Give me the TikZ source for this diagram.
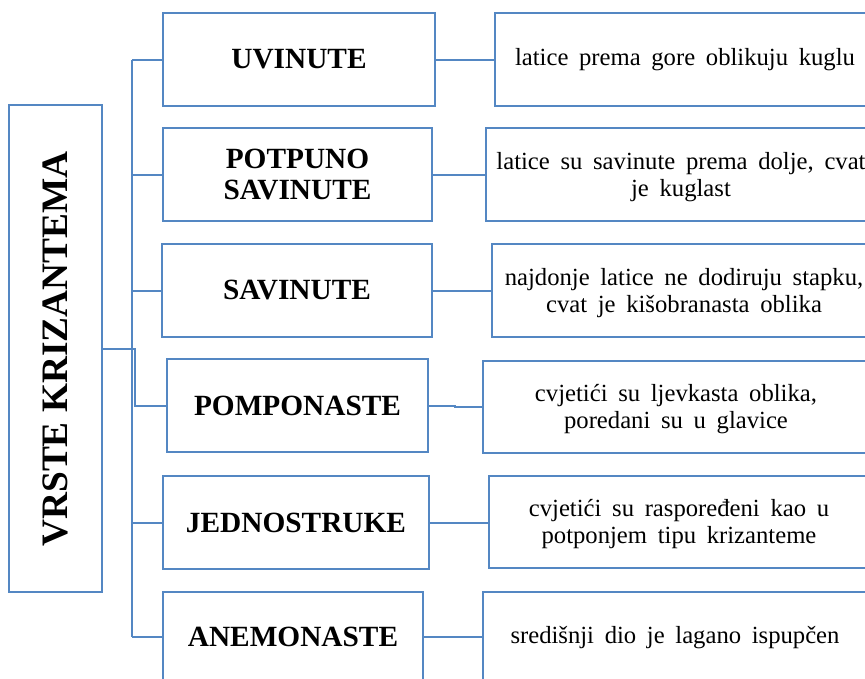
\documentclass[tikz,border=0pt]{standalone}
\usepackage{fontspec}
\setmainfont{Liberation Serif}
\definecolor{lineblue}{RGB}{84,135,195}
\newcommand\myrfont{\fontsize{18.5}{20.8}\selectfont\spaceskip=8pt plus 1pt minus 1pt\relax}
\begin{document}
\begin{tikzpicture}[x=0.75pt,y=-0.75pt,
  every node/.style={inner sep=0pt, outer sep=0pt},
  box/.style={draw=lineblue, line width=1.4pt, rectangle, fill=none},
  link/.style={draw=lineblue, line width=1.5pt},
  midtext/.style={font=\fontsize{22}{23}\selectfont\bfseries, align=center, text=black},
  rtext/.style={font=\myrfont, align=center, text=black}]
\useasboundingbox (0,0) rectangle (865,679);
\clip (0,0) rectangle (865,679);
% root
\node[box, minimum width=69.75pt, minimum height=365.25pt] (root) at (55.5,348.5) {};
\node[font=\fontsize{28}{30}\selectfont\bfseries, rotate=90] (roottext) at (55.5,349) {VRSTE KRIZANTEMA};
% middle boxes
\node[box, midtext, minimum width=204pt, minimum height=69.75pt] (m1) at (299,59.5) {UVINUTE};
\node[box, midtext, minimum width=201.75pt, minimum height=69.75pt] (m2) at (297.5,174.5) {POTPUNO\\SAVINUTE};
\node[box, midtext, minimum width=202.5pt, minimum height=69.75pt] (m3) at (297,290.5) {SAVINUTE};
\node[box, midtext, minimum width=195.75pt, minimum height=69.75pt] (m4) at (297.5,405.5) {POMPONASTE};
\node[box, midtext, minimum width=199.5pt, minimum height=69.75pt] (m5) at (296,522.5) {JEDNOSTRUKE};
\node[box, midtext, minimum width=195pt, minimum height=67.5pt] (m6) at (293,637) {ANEMONASTE};
% right boxes (extend beyond the right edge)
\node[box, minimum width=303.75pt, minimum height=69.75pt] (r1) at (697.5,59.5) {};
\node[box, minimum width=310.5pt, minimum height=69.75pt] (r2) at (693,174.5) {};
\node[box, minimum width=306pt, minimum height=69.75pt] (r3) at (696,290.5) {};
\node[box, minimum width=312.75pt, minimum height=69pt] (r4) at (691.5,407) {};
\node[box, minimum width=308.25pt, minimum height=69pt] (r5) at (694.5,522) {};
\node[box, minimum width=312.75pt, minimum height=67.5pt] (r6) at (691.5,637) {};
% right texts
\node[rtext] (t1) at (685,59.5) {latice prema gore oblikuju kuglu};
\node[rtext] (t2) at (681,177) {latice su savinute prema dolje, cvat\\je kuglast};
\node[rtext] (t3) at (684,293) {najdonje latice ne dodiruju stapku,\\cvat je kišobranasta oblika};
\node[rtext] (t4) at (676,409) {cvjetići su ljevkasta oblika,\\poredani su u glavice};
\node[rtext] (t5) at (679,524) {cvjetići su raspoređeni kao u\\potponjem tipu krizanteme};
\node[rtext] (t6) at (675,638) {središnji dio je lagano ispupčen};
% trunk
\coordinate (tk) at (132,0);
\draw[link] (tk |- m1.west) -- (tk |- m6.west);
\draw[link] (root.east) -- ++(32.5,0) |- (m4.west);
\foreach \i in {1,2,3,5,6} {
  \draw[link] (tk |- m\i.west) -- (m\i.west);
}
% middle to right connectors
\foreach \i in {1,2,3,5,6} {
  \draw[link] (m\i.east) -- (m\i.east -| r\i.west);
}
\draw[link] (m4.east) -- ++(27,0) |- (r4.west);
\end{tikzpicture}
\end{document}
